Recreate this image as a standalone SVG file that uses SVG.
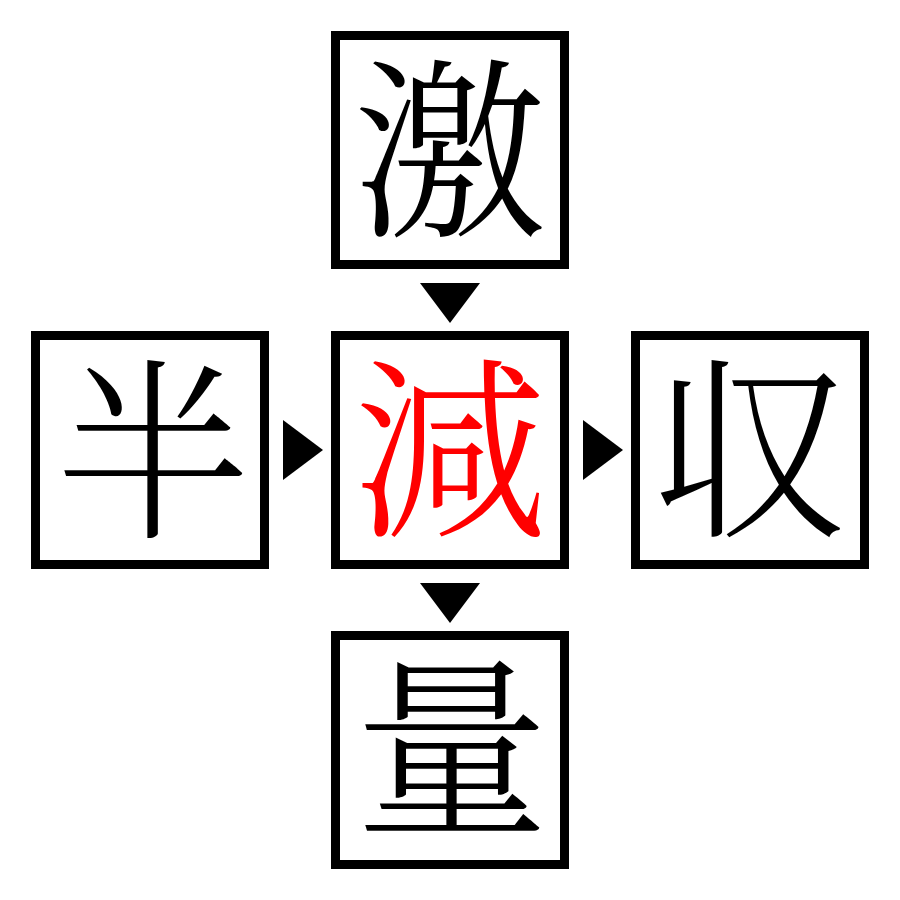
<svg xmlns="http://www.w3.org/2000/svg" width="900" height="900" viewBox="0 0 900 900">
<style>
.box{fill:#fff;stroke:#000;stroke-width:9}
.ch{font-family:"Noto Serif CJK JP","Noto Sans CJK JP",serif;font-size:194px;font-weight:300;text-anchor:middle;fill:#000}
.red{fill:#f00}
.arr{fill:#000}
</style>
<rect width="900" height="900" fill="#fff"/>
<g id="top"><rect class="box" x="335.5" y="35.5" width="229" height="229"/><text class="ch" x="450" y="222">激</text></g>
<g id="left"><rect class="box" x="35.5" y="335.5" width="229" height="229"/><text class="ch" x="153" y="523">半</text></g>
<g id="center"><rect class="box" x="335.5" y="335.5" width="229" height="229"/><text class="ch red" x="450" y="522">減</text></g>
<g id="right"><rect class="box" x="635.5" y="335.5" width="229" height="229"/><text class="ch" x="750" y="522">収</text></g>
<g id="bottom"><rect class="box" x="335.5" y="635.5" width="229" height="229"/><text class="ch" x="452" y="820">量</text></g>
<g id="connectors">
<polygon class="arr" points="420,283 480,283 450,323"/>
<polygon class="arr" points="283,420 283,480 323,450"/>
<polygon class="arr" points="583,420 583,480 623,450"/>
<polygon class="arr" points="420,583 480,583 450,623"/>
</g>
</svg>
